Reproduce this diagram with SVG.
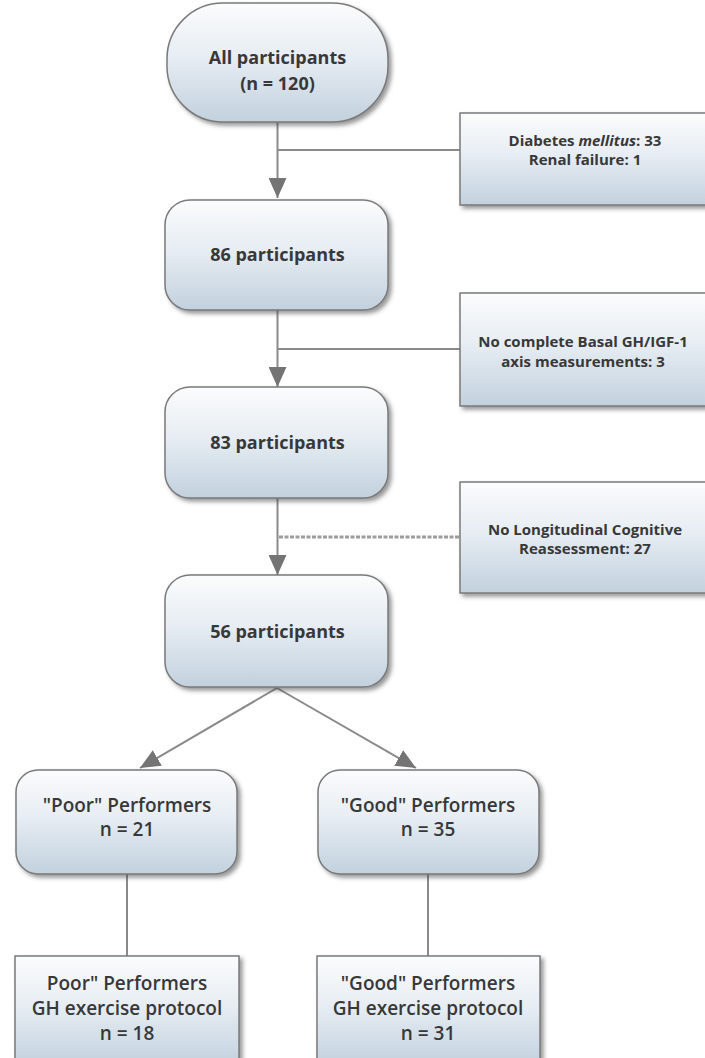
<svg xmlns="http://www.w3.org/2000/svg" width="705" height="1058" viewBox="0 0 705 1058">
  <style>
    .node { fill: url(#nodeFill); stroke: #7a7a7a; stroke-width: 1.5; filter: url(#shadow); }
    .label { font-family: "Open Sans", "Noto Sans", "DejaVu Sans", sans-serif; font-weight: bold; fill: #383838; text-anchor: middle; }
    .big { font-size: 18px; }
    .side { font-size: 15px; }
    .perf { font-family: "Open Sans", "Noto Sans", sans-serif; font-weight: 600; font-size: 19px; fill: #383838; text-anchor: middle; }
    .wire { stroke: #8a8a8a; stroke-width: 2; fill: none; }
    .arrow { marker-end: url(#head); }
    .dashed { stroke: #9c9c9c; stroke-width: 3; stroke-dasharray: 4 1.5; }
  </style>
  <defs>
    <linearGradient id="nodeFill" x1="0" y1="0" x2="0" y2="1">
      <stop offset="0" stop-color="#fbfcfd"/>
      <stop offset="0.45" stop-color="#e7edf3"/>
      <stop offset="1" stop-color="#c2d1de"/>
    </linearGradient>
    <filter id="shadow" x="-10%" y="-10%" width="125%" height="130%">
      <feDropShadow dx="3" dy="3" stdDeviation="2" flood-color="#444" flood-opacity="0.55"/>
    </filter>
    <marker id="head" viewBox="0 0 20 18" refX="20" refY="9" markerWidth="20" markerHeight="18" markerUnits="userSpaceOnUse" orient="auto">
      <path d="M0,0 L20,9 L0,18 Z" fill="#747474"/>
    </marker>
  </defs>

  <!-- connectors -->
  <g id="connectors">
    <line class="wire arrow" x1="277.5" y1="122" x2="277.5" y2="198"/>
    <line class="wire" x1="277.5" y1="150" x2="460" y2="150"/>
    <line class="wire arrow" x1="277.5" y1="310" x2="277.5" y2="387"/>
    <line class="wire" x1="277.5" y1="349" x2="460" y2="349"/>
    <line class="wire arrow" x1="277.5" y1="498" x2="277.5" y2="575"/>
    <line class="wire dashed" x1="279" y1="537" x2="460" y2="537"/>
    <line class="wire arrow" x1="277" y1="688" x2="140" y2="768"/>
    <line class="wire arrow" x1="277" y1="688" x2="416" y2="768"/>
    <line class="wire" x1="127" y1="874" x2="127" y2="956"/>
    <line class="wire" x1="428" y1="874" x2="428" y2="956"/>
  </g>

  <!-- main flow -->
  <g id="all-participants">
    <rect class="node" x="167" y="3" width="221" height="119" rx="56" ry="56"/>
    <text class="label big" x="277.5" y="64">All participants</text>
    <text class="label big" x="277.5" y="90">(n = 120)</text>
  </g>
  <g id="p86">
    <rect class="node" x="165" y="200" width="223" height="110" rx="25" ry="25"/>
    <text class="label big" x="277.5" y="261">86 participants</text>
  </g>
  <g id="p83">
    <rect class="node" x="165" y="387" width="223" height="111" rx="25" ry="25"/>
    <text class="label big" x="277.5" y="449">83 participants</text>
  </g>
  <g id="p56">
    <rect class="node" x="165" y="575" width="223" height="112" rx="25" ry="25"/>
    <text class="label big" x="277.5" y="638">56 participants</text>
  </g>

  <!-- exclusions -->
  <g id="excl-diabetes">
    <rect class="node" x="460" y="113" width="250" height="92"/>
    <text class="label side" x="585" y="146">Diabetes <tspan font-style="italic">mellitus</tspan>: 33</text>
    <text class="label side" x="585" y="165">Renal failure: 1</text>
  </g>
  <g id="excl-basal">
    <rect class="node" x="460" y="293" width="250" height="113"/>
    <text class="label side" x="583" y="347">No complete Basal GH/IGF-1</text>
    <text class="label side" x="583" y="367">axis measurements: 3</text>
  </g>
  <g id="excl-reassessment">
    <rect class="node" x="460" y="482" width="250" height="111"/>
    <text class="label side" x="585" y="535">No Longitudinal Cognitive</text>
    <text class="label side" x="585" y="554">Reassessment: 27</text>
  </g>

  <!-- performer groups -->
  <g id="poor">
    <rect class="node" x="16" y="770" width="221" height="104" rx="22" ry="22"/>
    <text class="perf" x="127" y="812">"Poor" Performers</text>
    <text class="perf" x="127" y="836">n = 21</text>
  </g>
  <g id="good">
    <rect class="node" x="318" y="770" width="221" height="104" rx="22" ry="22"/>
    <text class="perf" x="428" y="812">"Good" Performers</text>
    <text class="perf" x="428" y="836">n = 35</text>
  </g>
  <g id="poor-gh">
    <rect class="node" x="15" y="956" width="224" height="110"/>
    <text class="perf" x="127" y="990">Poor" Performers</text>
    <text class="perf" x="127" y="1015">GH exercise protocol</text>
    <text class="perf" x="127" y="1040">n = 18</text>
  </g>
  <g id="good-gh">
    <rect class="node" x="317" y="956" width="223" height="110"/>
    <text class="perf" x="428" y="990">"Good" Performers</text>
    <text class="perf" x="428" y="1015">GH exercise protocol</text>
    <text class="perf" x="428" y="1040">n = 31</text>
  </g>
</svg>
